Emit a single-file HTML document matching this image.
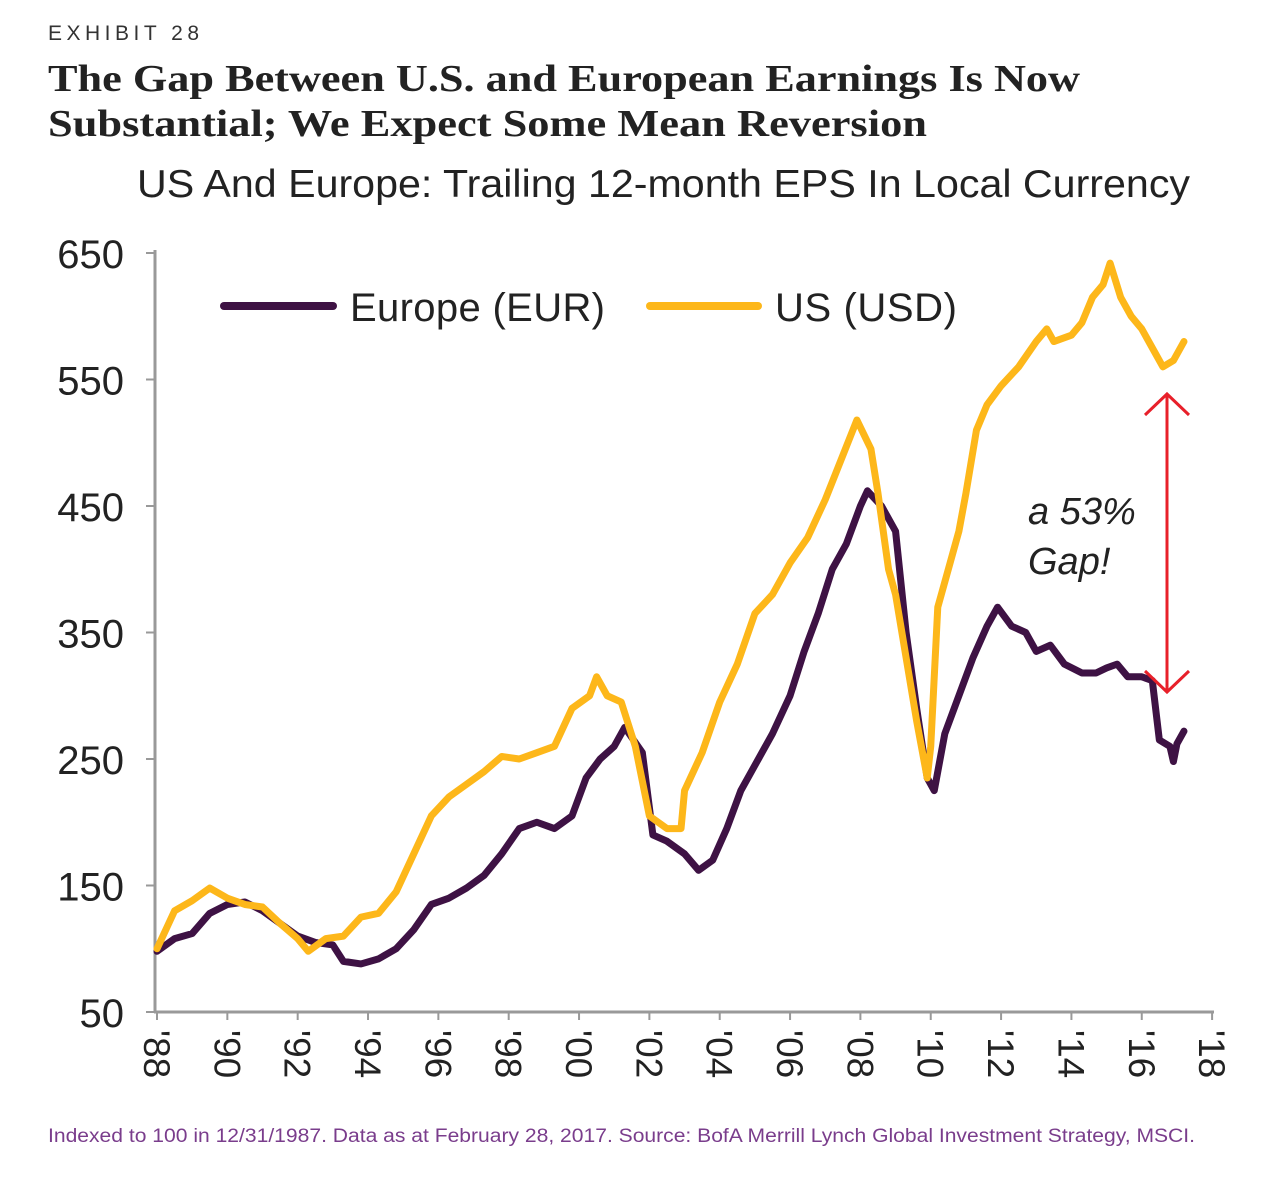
<!DOCTYPE html>
<html><head><meta charset="utf-8"><style>
body{margin:0;background:#fff;width:1282px;height:1173px;overflow:hidden;font-family:"Liberation Sans",sans-serif}
</style></head><body>
<svg width="1282" height="1173" xmlns="http://www.w3.org/2000/svg">
<text x="48" y="40" font-size="21" letter-spacing="3" fill="#333" textLength="154">EXHIBIT 28</text>
<text x="48" y="91" font-family="Liberation Serif" font-weight="bold" font-size="38" fill="#222" textLength="1032" lengthAdjust="spacingAndGlyphs">The Gap Between U.S. and European Earnings Is Now</text>
<text x="48" y="136" font-family="Liberation Serif" font-weight="bold" font-size="38" fill="#222" textLength="879" lengthAdjust="spacingAndGlyphs">Substantial; We Expect Some Mean Reversion</text>
<text x="137" y="197" font-size="39" fill="#222" textLength="1053" lengthAdjust="spacingAndGlyphs">US And Europe: Trailing 12-month EPS In Local Currency</text>
<g id="axes"></g>
<g id="series"></g>
<g>
<line x1="224" y1="306" x2="333" y2="306" stroke="#3e1244" stroke-width="8" stroke-linecap="round"/>
<text x="350" y="321" font-size="40" fill="#222" textLength="255">Europe (EUR)</text>
<line x1="650" y1="306" x2="758" y2="306" stroke="#fdb71a" stroke-width="8" stroke-linecap="round"/>
<text x="775" y="321" font-size="40" fill="#222" textLength="182">US (USD)</text>
</g>
<g>
<line x1="1167" y1="394" x2="1167" y2="692" stroke="#e8202a" stroke-width="3"/>
<polyline points="1145,415 1167,394 1189,415" fill="none" stroke="#e8202a" stroke-width="3"/>
<polyline points="1145,671 1167,692 1189,671" fill="none" stroke="#e8202a" stroke-width="3"/>
<text x="1028" y="524" font-size="38" font-style="italic" fill="#222">a 53%</text>
<text x="1028" y="574" font-size="38" font-style="italic" fill="#222">Gap!</text>
</g>
<text x="48" y="1142" font-size="19" fill="#7a3d8c" textLength="1147" lengthAdjust="spacingAndGlyphs">Indexed to 100 in 12/31/1987. Data as at February 28, 2017. Source: BofA Merrill Lynch Global Investment Strategy, MSCI.</text>
</svg>
<script>
const yTicks=[50,150,250,350,450,550,650];
const xTickYears=[1988,1990,1992,1994,1996,1998,2000,2002,2004,2006,2008,2010,2012,2014,2016,2018];
const xTickLabels=["'88","'90","'92","'94","'96","'98","'00","'02","'04","'06","'08","'10","'12","'14","'16","'18"];
const usYears=[1988,1988.5,1989,1989.5,1990,1990.5,1991,1991.5,1992,1992.3,1992.8,1993.3,1993.8,1994.3,1994.8,1995.3,1995.8,1996.3,1996.8,1997.3,1997.8,1998.3,1998.8,1999.3,1999.8,2000.3,2000.5,2000.8,2001.2,2001.6,2002,2002.5,2002.9,2003,2003.5,2004,2004.5,2005,2005.5,2006,2006.5,2007,2007.5,2007.9,2008.3,2008.5,2008.8,2009,2009.3,2009.6,2009.9,2010,2010.2,2010.5,2010.8,2011,2011.3,2011.6,2012,2012.5,2013,2013.3,2013.5,2014,2014.3,2014.6,2014.9,2015.1,2015.4,2015.7,2016,2016.3,2016.6,2016.9,2017.2];
const usValues=[100,130,138,148,140,135,133,120,108,98,108,110,125,128,145,175,205,220,230,240,252,250,255,260,290,300,315,300,295,260,205,195,195,225,255,295,325,365,380,405,425,455,490,518,495,460,400,380,330,280,235,260,370,400,430,460,510,530,545,560,580,590,580,585,595,615,625,642,615,600,590,575,560,565,580];
const euYears=[1988,1988.5,1989,1989.5,1990,1990.5,1991,1991.5,1992,1992.5,1993,1993.3,1993.8,1994.3,1994.8,1995.3,1995.8,1996.3,1996.8,1997.3,1997.8,1998.3,1998.8,1999.3,1999.8,2000.2,2000.6,2001,2001.3,2001.8,2002.1,2002.5,2003,2003.4,2003.8,2004.2,2004.6,2005,2005.5,2006,2006.4,2006.8,2007.2,2007.6,2008,2008.2,2008.6,2009,2009.3,2009.6,2009.9,2010.1,2010.4,2010.8,2011.2,2011.6,2011.9,2012.3,2012.7,2013,2013.4,2013.8,2014.3,2014.7,2015,2015.3,2015.6,2016,2016.3,2016.5,2016.8,2016.9,2017,2017.2];
const euValues=[98,108,112,128,135,137,130,120,110,105,103,90,88,92,100,115,135,140,148,158,175,195,200,195,205,235,250,260,275,255,190,185,175,162,170,195,225,245,270,300,335,365,400,420,450,462,450,430,350,290,235,225,270,300,330,355,370,355,350,335,340,325,318,318,322,325,315,315,312,265,260,248,262,272];
const NS="http://www.w3.org/2000/svg";
const X=yr=>157+(yr-1988)*35.17;
const Y=v=>1012-(v-50)*1.265;
const axes=document.getElementById('axes');
function mk(tag,attrs,parent){const e=document.createElementNS(NS,tag);for(const k in attrs)e.setAttribute(k,attrs[k]);parent.appendChild(e);return e;}
const ya=mk('line',{x1:155,y1:250,x2:155,y2:1013,stroke:'#999','stroke-width':3},axes);


const xa=mk('line',{x1:154,y1:1012,x2:1214,y2:1012,stroke:'#999','stroke-width':3},axes);


yTicks.forEach(v=>{
  mk('line',{x1:146,y1:Y(v),x2:155,y2:Y(v),stroke:'#999','stroke-width':2},axes);
  const t=mk('text',{x:124,y:Y(v)+15,'font-size':40,fill:'#222','text-anchor':'end'},axes);
  t.textContent=v;
  
  
});
xTickYears.forEach((yr,i)=>{
  mk('line',{x1:X(yr),y1:1012,x2:X(yr),y2:1020,stroke:'#999','stroke-width':2},axes);
  const t=mk('text',{x:0,y:0,'font-size':37,fill:'#222',transform:`translate(${X(yr)-13},1030) rotate(90)`},axes);
  t.textContent=xTickLabels[i];
  
  
});
const ser=document.getElementById('series');
function line(xs,vs,color,name){
  const p=mk('polyline',{points:xs.map((x,i)=>X(x)+','+Y(vs[i])).join(' '),fill:'none',stroke:color,'stroke-width':7,'stroke-linejoin':'round','stroke-linecap':'round'},ser);
  
  
}
line(euYears,euValues,'#3e1244','europe-line');
line(usYears,usValues,'#fdb71a','us-line');
</script>
</body></html>
